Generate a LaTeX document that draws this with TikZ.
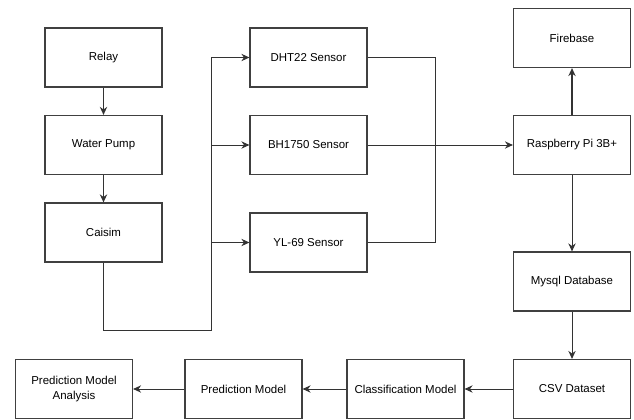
\documentclass[tikz,border=0pt]{standalone}
\usepackage{fontspec}
\setmainfont{Liberation Sans}
\usetikzlibrary{arrows.meta}
\begin{document}
\begin{tikzpicture}[x=0.75pt, y=-0.75pt, >={Stealth[length=6pt,width=5.5pt]}, line width=0.7pt, draw=black!80,
    main node/.style={draw=black!75, line width=0.9pt, minimum width=87.75pt, minimum height=44.25pt, align=center, font=\fontsize{8.6}{11}\selectfont},
    flow/.style={->, line width=1.4pt}]
\useasboundingbox (0,0) rectangle (634,420);
% left column
\node[main node] (relay) at (103.5,57.5) {Relay};
\node[main node] (pump) at (103.5,145) {Water Pump};
\node[main node] (caisim) at (103.5,232.5) {Caisim};
% sensors
\node[main node] (dht) at (308.5,57.5) {DHT22 Sensor};
\node[main node] (bh) at (308.5,145) {BH1750 Sensor};
\node[main node] (yl) at (308.5,242.5) {YL-69 Sensor};
% right column
\node[main node] (fire) at (572,38) {Firebase};
\node[main node] (rpi) at (572,145) {Raspberry Pi 3B+};
\node[main node] (mysql) at (572,281.5) {Mysql Database};
\node[main node] (csv) at (572,389) {CSV Dataset};
% bottom row
\node[main node] (class) at (405.5,389) {Classification Model};
\node[main node] (pred) at (243.5,389) {Prediction Model};
\node[main node] (anal) at (74,389) {Prediction Model\\Analysis};
\coordinate (bus) at (211,330);
\coordinate (join) at (435,145);
\draw[flow] (relay) -- (pump);
\draw[flow] (pump) -- (caisim);
\draw[->] (caisim.south) |- (bus) |- (dht.west);
\draw[->] (bus) |- (bh.west);
\draw[->] (bus) |- (yl.west);
\draw (dht.east) -| (join);
\draw (yl.east) -| (join);
\draw[->] (bh) -- (rpi);
\draw[->, line width=1pt] (rpi) -- (fire);
\draw[->] (rpi) -- (mysql);
\draw[->] (mysql) -- (csv);
\draw[->] (csv) -- (class);
\draw[->] (class) -- (pred);
\draw[->] (pred) -- (anal);
\end{tikzpicture}
\end{document}
